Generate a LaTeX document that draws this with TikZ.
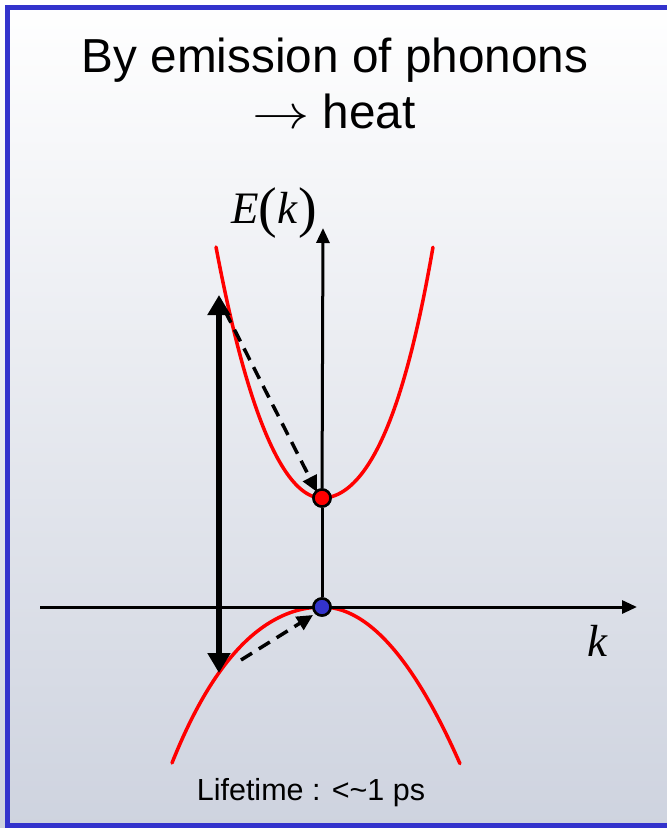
\RequirePackage{fix-cm}
\documentclass[tikz,border=0pt]{standalone}
\usepackage{fontspec}
\setmainfont{Liberation Sans}
\newfontfamily\tnr{Liberation Serif}
\usetikzlibrary{arrows.meta}
\definecolor{frameblue}{RGB}{51,51,204}
\definecolor{bgbot}{RGB}{206,211,223}
\definecolor{dotblue}{RGB}{51,51,204}
\tikzset{
  band/.style={red, line width=3.5pt, line cap=round},
  axis/.style={line width=3pt, -{Triangle[length=15pt,width=13pt]}},
  exc/.style={line width=6pt, {Triangle[length=20pt,width=22pt]}-{Triangle[length=20pt,width=22pt]}},
  relax/.style={line width=3.5pt, dash pattern=on 13pt off 8pt, -{Triangle[length=16pt,width=15pt]}},
  state/.style={circle, draw=black, line width=2.5pt, minimum size=17pt, inner sep=0pt},
  ttl/.style={anchor=base, inner sep=0pt, font=\fontsize{47.7}{57}\selectfont},
}
\begin{document}
\begin{tikzpicture}[x=1pt,y=-1pt]
\useasboundingbox (0,0) rectangle (667,828);
\clip (0,0) rectangle (667,828);
\shade[top color=white, bottom color=bgbot] (0,0) rectangle (667,828);
\draw[frameblue, line width=5pt] (7.5,7.5) rectangle (680,825.5);

\node[ttl] (t1) at (335,72) {By emission of phonons};
\node[ttl] (t2) at (334,128) {\scalebox{1.2}[1]{$\rightarrow$} heat};

% bands (conduction band, valence band)
\draw[band] plot[domain=-1.06:0, samples=50, smooth] ({322+100*\x}, {498-197*\x*\x-23.5*(\x*\x)*(\x*\x)})
            -- plot[domain=0:1.11, samples=50, smooth] ({322+100*\x}, {498-146.7*\x*\x-46.3*(\x*\x)*(\x*\x)});
\draw[band] plot[domain=-1.5:0, samples=60, smooth] ({322+100*\x}, {607+55.3*\x*\x+6.23*(\x*\x)*(\x*\x)})
            -- plot[domain=0:1.38, samples=60, smooth] ({322+100*\x}, {607+82.3*\x*\x});

% axes
\coordinate (xl) at (40,607);
\coordinate (xr) at (637,607);
\coordinate (yt) at (323,228);
\node[state, fill=dotblue] (vb) at (322,607) {};
\node[state, fill=red] (cb) at (322,498) {};
\draw[axis] (xl) -- (xr);
\draw[line width=3pt] (vb) -- (cb);
\draw[axis] (cb) -- (yt);
\node[state, fill=dotblue] at (vb) {};
\node[state, fill=red] at (cb) {};

\node[anchor=base, inner sep=0pt] (ek) at (274,223) {\tnr\fontsize{45}{45}\selectfont\textit{E}\raisebox{-3pt}{\fontsize{56}{56}\selectfont(}\textit{k}\raisebox{-3pt}{\fontsize{56}{56}\selectfont)}};
\node[anchor=base, inner sep=0pt] (kl) at (598,656) {\tnr\fontsize{45}{45}\selectfont\textit{k}};

% excitation and relaxation
\coordinate (lo) at (219,673);
\coordinate (hi) at (219,295);
\draw[exc] (lo) -- (hi);
\coordinate (d1s) at (225,311);
\coordinate (d1e) at (317,492);
\draw[relax] (d1s) -- (d1e);
\coordinate (d2s) at (241,660);
\coordinate (d2e) at (313,615);
\draw[relax] (d2s) -- (d2e);

\node[anchor=base, inner sep=0pt, font=\fontsize{30.5}{36}\selectfont] (life) at (311,800) {Lifetime : <\textasciitilde1 ps};
\end{tikzpicture}
\end{document}
